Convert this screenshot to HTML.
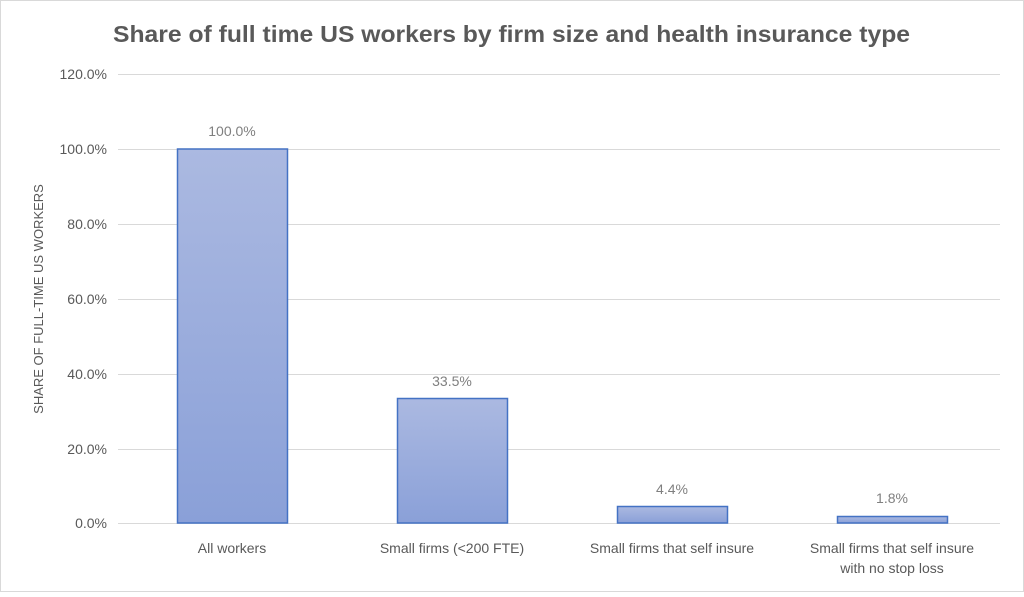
<!DOCTYPE html>
<html><head><meta charset="utf-8"><style>
html,body{margin:0;padding:0;background:#fff;}
</style></head><body>
<svg width="1024" height="592" xmlns="http://www.w3.org/2000/svg" font-family="Liberation Sans, sans-serif">
<defs>
<linearGradient id="g" x1="0" y1="0" x2="0" y2="1">
<stop offset="0" stop-color="#abb9e1"/><stop offset="1" stop-color="#8aa0d8"/>
</linearGradient>
</defs>
<rect x="0.5" y="0.5" width="1023" height="591" fill="#fff" stroke="#d9d9d9"/>
<text x="113" y="42" font-size="23" font-weight="bold" fill="#595959" textLength="797" lengthAdjust="spacingAndGlyphs">Share of full time US workers by firm size and health insurance type</text>
<g stroke="#d9d9d9" stroke-width="1">
<line x1="118" y1="74.5" x2="1000" y2="74.5"/>
<line x1="118" y1="149.5" x2="1000" y2="149.5"/>
<line x1="118" y1="224.5" x2="1000" y2="224.5"/>
<line x1="118" y1="299.5" x2="1000" y2="299.5"/>
<line x1="118" y1="374.5" x2="1000" y2="374.5"/>
<line x1="118" y1="449.5" x2="1000" y2="449.5"/>
<line x1="118" y1="523.5" x2="1000" y2="523.5"/>
</g>
<g font-size="14" fill="#595959" text-anchor="end">
<text x="107" y="79">120.0%</text>
<text x="107" y="154">100.0%</text>
<text x="107" y="229">80.0%</text>
<text x="107" y="304">60.0%</text>
<text x="107" y="379">40.0%</text>
<text x="107" y="454">20.0%</text>
<text x="107" y="528">0.0%</text>
</g>
<text transform="translate(43,299) rotate(-90)" text-anchor="middle" font-size="13" fill="#595959">SHARE OF FULL-TIME US WORKERS</text>
<g fill="url(#g)" stroke="#4472c4" stroke-width="1.5">
<rect x="177.5" y="149" width="110" height="374"/>
<rect x="397.5" y="398.5" width="110" height="124.5"/>
<rect x="617.5" y="506.5" width="110" height="16.5"/>
<rect x="837.5" y="516.5" width="110" height="6.5"/>
</g>
<g font-size="14" fill="#7f7f7f" text-anchor="middle">
<text x="232" y="136">100.0%</text>
<text x="452" y="386">33.5%</text>
<text x="672" y="494">4.4%</text>
<text x="892" y="503">1.8%</text>
</g>
<g font-size="14" fill="#595959" text-anchor="middle">
<text x="232" y="553">All workers</text>
<text x="452" y="553">Small firms (&lt;200 FTE)</text>
<text x="672" y="553">Small firms that self insure</text>
<text x="892" y="553">Small firms that self insure</text>
<text x="892" y="573">with no stop loss</text>
</g>
</svg>
</body></html>
